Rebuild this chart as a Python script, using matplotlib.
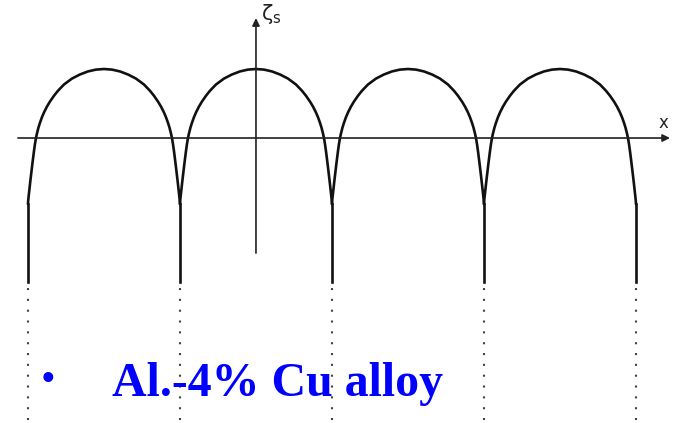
import numpy as np
import matplotlib.pyplot as plt

# lengths are in units of the cell spacing (lambda)
cell_centers = [-1, 0, 1, 2]

# half profile of one cell, from the tip (dx=0) out to the groove root
half_dx = [0.0, 0.0526, 0.1053, 0.1579, 0.2105, 0.2632, 0.3026, 0.3289,
           0.3553, 0.375, 0.3947, 0.4079, 0.4211, 0.4309, 0.4408, 0.4474,
           0.4539, 0.4605, 0.4671, 0.4737, 0.4803, 0.4868, 0.4921, 0.4961,
           0.4987, 0.5]
half_zeta = [0.454, 0.450, 0.438, 0.418, 0.391, 0.352, 0.311, 0.278,
             0.240, 0.207, 0.168, 0.137, 0.100, 0.069, 0.030, 0.0,
             -0.039, -0.086, -0.138, -0.192, -0.248, -0.304, -0.352, -0.388,
             -0.414, -0.435]

groove_bottom = -0.947
dot_top = -0.99
dot_bottom = -1.875

x_axis = (-1.566, 2.724)
y_axis = (-0.757, 0.789)

caption = 'Al.-4% Cu alloy'

fig = plt.figure(figsize=(6.79, 4.23), dpi=100)
ax = fig.add_axes([0, 0, 1, 1])
ax.set_xlim(-1.684, 2.783)
ax.set_ylim(-1.875, 0.908)
ax.axis('off')

ink = '#111111'

# axes with arrow heads
arrow = dict(arrowstyle='-|>', lw=1.2, color='#222222', mutation_scale=11,
             shrinkA=0, shrinkB=0)
ax.annotate('', xy=(x_axis[1], 0), xytext=(x_axis[0], 0), arrowprops=arrow)
ax.annotate('', xy=(0, y_axis[1]), xytext=(0, y_axis[0]), arrowprops=arrow)
ax.text(0.035, 0.815, r'$\mathregular{\zeta_s}$', fontsize=15, color='#222222',
        ha='left', va='center')
ax.text(2.684, 0.099, 'x', fontsize=12, color='#222222',
        ha='center', va='center')

# cell profiles: mirror the half profile around each cell centre
hx = np.array(half_dx)
hz = np.array(half_zeta)
full_dx = np.concatenate([-hx[::-1], hx[1:]])
full_z = np.concatenate([hz[::-1], hz[1:]])
for c in cell_centers:
    ax.plot(c + full_dx, full_z, color=ink, lw=1.9, solid_capstyle='round')

# grooves between cells and at both ends
edges = sorted(set([c - 0.5 for c in cell_centers] + [c + 0.5 for c in cell_centers]))
for e in edges:
    ax.plot([e, e], [half_zeta[-1], groove_bottom], color=ink, lw=1.9)
    ax.plot([e, e], [dot_top, dot_bottom], color='#444444', lw=1.5,
            linestyle=(0, (1, 4.2)))

ax.text(-1.368, -1.60, '\u2022', fontsize=30, color='#0000ff',
        ha='center', va='center', family='Liberation Serif')
ax.text(-0.947, -1.697, caption, fontsize=34.5, color='#0000ff',
        fontweight='bold', family='Liberation Serif',
        ha='left', va='baseline')

fig.savefig('out.png', dpi=100)
